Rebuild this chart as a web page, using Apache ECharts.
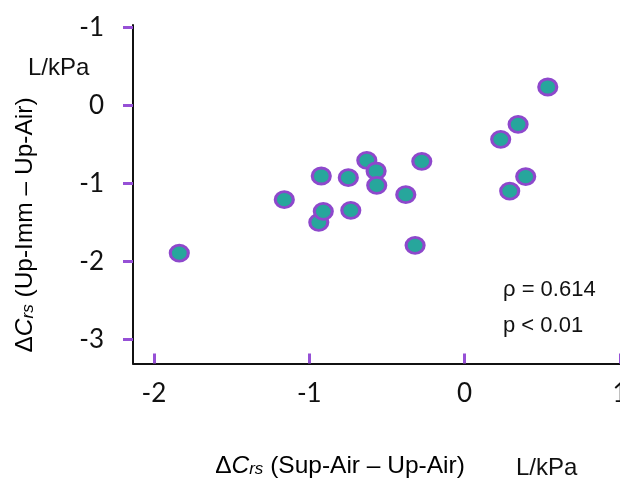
<!DOCTYPE html>
<html><head><meta charset="utf-8">
<script src="https://cdn.jsdelivr.net/npm/echarts@6/dist/echarts.min.js"></script>
<style>html,body{margin:0;padding:0;background:#fff}#c{width:620px;height:479px}</style>
</head><body><div id="c"></div>
<script>
const xValues = [-1.837,-1.161,-0.923,-0.939,-0.910,-0.749,-0.733,-0.630,-0.570,-0.566,-0.379,-0.319,-0.276,0.232,0.344,0.535,0.290,0.393];
const yValues = [-1.894,-1.209,-0.906,-1.500,-1.359,-0.927,-1.346,-0.705,-0.842,-1.026,-1.145,-1.795,-0.718,-0.436,-0.244,0.235,-1.099,-0.914];
const xTicks = [-2,-1,0,1];
const xTickLabels = ['-2','-1','0','1'];
const yTicks = [-3,-2,-1,0,1];
const yTickLabels = ['-3','-2','-1','0','-1'];
const statLines = ['ρ = 0.614','p < 0.01'];
const unitLabel = 'L/kPa';

const teal = '#27a69c', purple = '#8e48cc', tickPurple = '#9650d6';
const points = xValues.map((x,i)=>[x,yValues[i]]);
const richTitle = {
  n: {fontFamily:'Liberation Sans', fontSize:24.5, color:'#111', lineHeight:24},
  it: {fontFamily:'Liberation Sans', fontSize:24.5, fontStyle:'italic', color:'#111', lineHeight:24},
  sub: {fontFamily:'Liberation Sans', fontSize:17, fontStyle:'italic', color:'#111', lineHeight:17, padding:[10,0,0,0], verticalAlign:'bottom'}
};
const chart = echarts.init(document.getElementById('c'), null, {renderer:'canvas'});
chart.setOption({
  animation:false,
  grid:{left:133, right:0, top:25, bottom:115.5, containLabel:false, outerBoundsMode:'none'},
  xAxis:{type:'value', min:-2.135, max:1.0,
    axisLine:{show:true, onZero:false, lineStyle:{color:'#111', width:2}},
    axisTick:{show:true, inside:true, length:10, customValues:xTicks, lineStyle:{color:tickPurple, width:3}},
    axisLabel:{customValues:xTicks, margin:17, fontFamily:'Lato', fontSize:26, color:'#111',
      formatter:(v)=>xTickLabels[xTicks.indexOf(Math.round(v))]},
    splitLine:{show:false}},
  yAxis:{type:'value', min:-3.31, max:1.03,
    axisLine:{show:true, onZero:false, lineStyle:{color:'#111', width:2}},
    axisTick:{show:true, inside:false, length:10, customValues:yTicks, lineStyle:{color:tickPurple, width:3}},
    axisLabel:{customValues:yTicks, margin:29, fontFamily:'Lato', fontSize:26, color:'#111',
      formatter:(v)=>yTickLabels[yTicks.indexOf(Math.round(v))]},
    splitLine:{show:false}},
  series:[{type:'scatter', data:points, symbol:'circle', symbolSize:[18,16],
    itemStyle:{color:teal, borderColor:purple, borderWidth:3, opacity:1}, z:3}],
  graphic:[
    {type:'text', left:28, top:56, style:{text:unitLabel, font:'24px "Liberation Sans"', fill:'#111'}},
    {type:'text', left:516, top:456, style:{text:unitLabel, font:'24px "Liberation Sans"', fill:'#111'}},
    {type:'text', left:503, top:279, style:{text:statLines[0], font:'22px "Liberation Sans"', fill:'#111'}},
    {type:'text', left:503, top:315, style:{text:statLines[1], font:'22px "Liberation Sans"', fill:'#111'}},
    {type:'text', x:340, y:466, style:{text:'{n|Δ}{it|C}{sub|rs}{n| (Sup-Air – Up-Air)}', align:'center', verticalAlign:'middle', rich:richTitle}},
    {type:'text', x:25, y:225, rotation:Math.PI/2, style:{text:'{n|Δ}{it|C}{sub|rs}{n| (Up-Imm – Up-Air)}', align:'center', verticalAlign:'middle', rich:richTitle}}
  ]
});
</script></body></html>
